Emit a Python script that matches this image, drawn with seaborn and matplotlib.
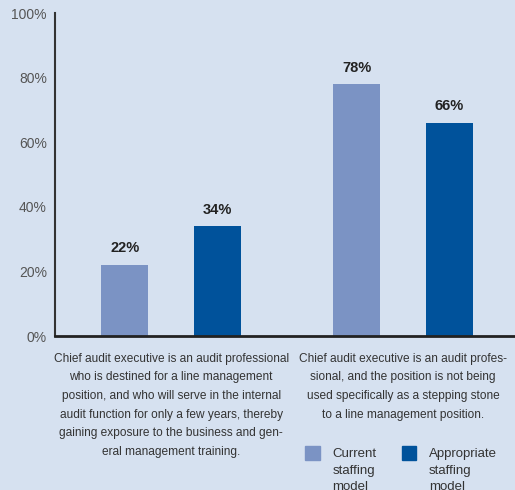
import pandas as pd
import numpy as np
import matplotlib
matplotlib.use('Agg')
import matplotlib.pyplot as plt
import matplotlib.patches as mpatches
from matplotlib.legend_handler import HandlerPatch
from matplotlib.ticker import FuncFormatter
import seaborn as sns

# Data
categories = [
    "Chief audit executive is an audit professional\n"
    "who is destined for a line management\n"
    "position, and who will serve in the internal\n"
    "audit function for only a few years, thereby\n"
    "gaining exposure to the business and gen-\n"
    "eral management training.",
    "Chief audit executive is an audit profes-\n"
    "sional, and the position is not being\n"
    "used specifically as a stepping stone\n"
    "to a line management position.",
]
series = ["Current\nstaffing\nmodel", "Appropriate\nstaffing\nmodel"]
current = [22, 78]
appropriate = [34, 66]
y_ticks = [0, 20, 40, 60, 80, 100]

bg = '#d6e1f0'
colors = ['#7b93c4', '#00529b']

df = pd.DataFrame({
    'category': categories * 2,
    'series': [series[0]] * 2 + [series[1]] * 2,
    'value': current + appropriate,
})

sns.set_style('white')
plt.rcParams['font.family'] = ['Liberation Sans', 'DejaVu Sans']

fig = plt.figure(figsize=(5.15, 4.9), dpi=100, facecolor=bg)
ax = fig.add_axes([0.107, 0.314, 0.893, 0.659])
ax.set_facecolor(bg)

sns.barplot(data=df, x='category', y='value', hue='series',
            palette=colors, width=0.8, gap=0.5, linewidth=0,
            edgecolor='none', saturation=1, legend=False, ax=ax)

for cont in ax.containers:
    ax.bar_label(cont, fmt='%.0f%%', padding=7,
                 fontsize=10.5, fontweight='bold', color='#222222')

ax.set_xlim(-0.5, 1.483)
ax.set_ylim(0, 100)
ax.set_yticks(y_ticks)
ax.yaxis.set_major_formatter(FuncFormatter(lambda v, p: f'{v:.0f}%'))
ax.tick_params(axis='y', length=0, pad=6, labelsize=10, labelcolor='#555555')
ax.tick_params(axis='x', length=0, pad=12)
for lab in ax.get_xticklabels():
    lab.set_fontsize(8.6)
    lab.set_color('#333333')
    lab.set_linespacing(1.74)
    lab.set_ha('center')
ax.set_xlabel('')
ax.set_ylabel('')

sns.despine(ax=ax, top=True, right=True)
ax.spines['left'].set_color('#333333')
ax.spines['left'].set_linewidth(1.5)
ax.spines['bottom'].set_color('#222222')
ax.spines['bottom'].set_linewidth(2)


# Legend: square aligned with the first line of text
def top_square(legend, orig_handle, xdescent, ydescent,
               width, height, fontsize):
    side = height
    return mpatches.Rectangle((-xdescent, -ydescent + fontsize * 1.35),
                              side, side)


handles = [mpatches.Patch(color=c) for c in colors]
leg = fig.legend(handles, series, loc='upper left',
                 bbox_to_anchor=(0.580, 0.100), ncol=2, frameon=False,
                 borderpad=0, handlelength=1.3, handleheight=1.3,
                 handletextpad=0.75, columnspacing=1.93,
                 prop={'size': 9.5},
                 handler_map={mpatches.Patch: HandlerPatch(patch_func=top_square)})
for t in leg.get_texts():
    t.set_color('#333333')
    t.set_linespacing(1.55)

fig.savefig('out.png', dpi=100, facecolor=bg)
